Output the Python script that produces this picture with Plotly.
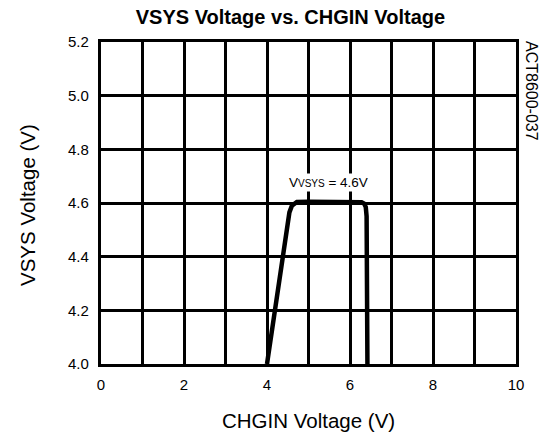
import plotly.graph_objects as go

# CHGIN input voltage (V) and resulting VSYS output voltage (V)
chgin_v = [4.00, 4.15, 4.30, 4.45, 4.54, 4.60, 4.66, 4.72, 5.00, 5.50, 6.00, 6.28, 6.34, 6.38, 6.40, 6.41, 6.42, 6.42]
vsys_v = [4.00, 4.15, 4.31, 4.47, 4.565, 4.59, 4.600, 4.604, 4.605, 4.605, 4.605, 4.603, 4.598, 4.585, 4.55, 4.40, 4.20, 4.00]

x_ticks = [0, 1, 2, 3, 4, 5, 6, 7, 8, 9, 10]
x_tick_text = ["0", "", "2", "", "4", "", "6", "", "8", "", "10"]
y_ticks = [4.0, 4.2, 4.4, 4.6, 4.8, 5.0, 5.2]
y_tick_text = ["4.0", "4.2", "4.4", "4.6", "4.8", "5.0", "5.2"]

FONT = "Liberation Sans, Arial, sans-serif"

fig = go.Figure()
fig.add_trace(go.Scatter(
    x=chgin_v, y=vsys_v, mode="lines",
    line=dict(color="black", width=4.5),
    hoverinfo="skip", showlegend=False,
))

axis_common = dict(
    showgrid=True, gridcolor="black", gridwidth=3.2,
    showline=True, linecolor="black", linewidth=3.2, mirror=True,
    zeroline=False, ticks="outside", tickcolor="rgba(0,0,0,0)",
    tickfont=dict(size=15, family=FONT, color="black"),
)

fig.update_layout(
    width=547, height=437,
    margin=dict(l=101, r=31, t=42, b=73),
    paper_bgcolor="white", plot_bgcolor="white",
    font=dict(family=FONT, color="black"),
    title=dict(text="<b>VSYS Voltage vs. CHGIN Voltage</b>",
               x=0.531, xanchor="center", y=0.96, yanchor="middle",
               font=dict(size=20, family=FONT, color="black")),
    xaxis=dict(range=[0, 10], tickvals=x_ticks, ticktext=x_tick_text,
               ticklen=5, **axis_common),
    yaxis=dict(range=[4.0, 5.2], tickvals=y_ticks, ticktext=y_tick_text,
               ticklen=6, **axis_common),
)

# axis titles
fig.add_annotation(
    x=0.5, y=0, xref="paper", yref="paper", yanchor="middle",
    yshift=-56, text="CHGIN Voltage (V)", showarrow=False,
    font=dict(size=20.5, family=FONT, color="black"),
)
fig.add_annotation(
    x=0, y=0.5, xref="paper", yref="paper", xanchor="center", yanchor="middle",
    xshift=-74, yshift=-2, text="VSYS Voltage (V)", textangle=-90, showarrow=False,
    font=dict(size=20.5, family=FONT, color="black"),
)

fig.add_annotation(
    x=5.48, y=4.676, xref="x", yref="y", yanchor="middle",
    text="V<span style='font-size:10px'>VSYS</span> = 4.6V",
    showarrow=False, font=dict(size=13.5, family=FONT, color="black"),
    bgcolor="white", borderpad=1,
)

fig.add_annotation(
    x=1.0, y=1.0, xref="paper", yref="paper", xanchor="center", yanchor="top",
    xshift=16, yshift=3, text="ACT8600-037", textangle=90, showarrow=False,
    font=dict(size=16, family=FONT, color="black"),
)

fig.write_html("out.html")
